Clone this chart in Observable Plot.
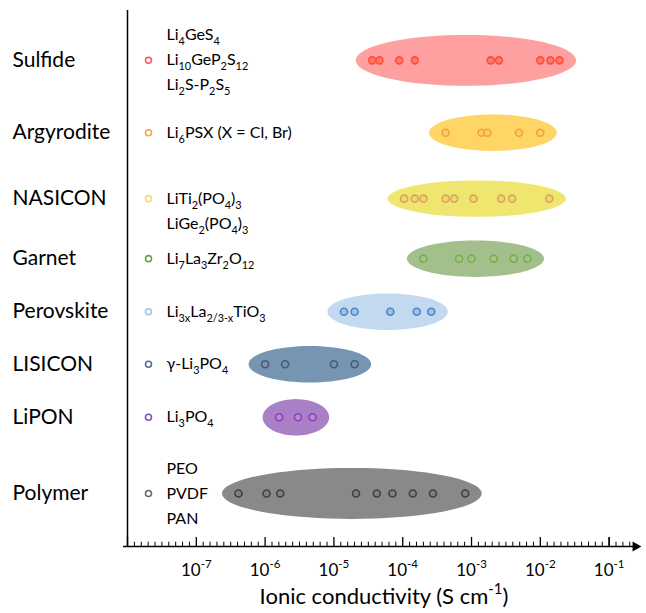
<!DOCTYPE html>
<html><head><meta charset="utf-8">
<script src="https://cdn.jsdelivr.net/npm/d3@7"></script>
<script src="https://cdn.jsdelivr.net/npm/@observablehq/plot@0.6"></script>
<style>body{margin:0;background:#fff}</style></head>
<body><div id="chart"></div>
<script>
// ---- data ----
const categories = ["Sulfide","Argyrodite","NASICON","Garnet","Perovskite","LISICON","LiPON","Polymer"];
const rowSlot = [0, 1.35, 2.58, 3.7, 4.69, 5.67, 6.66, 8.08];
const compoundLines = [
  ["Li_{4}GeS_{4}","Li_{10}GeP_{2}S_{12}","Li_{2}S-P_{2}S_{5}"],
  ["Li_{6}PSX (X = Cl, Br)"],
  ["LiTi_{2}(PO_{4})_{3}","LiGe_{2}(PO_{4})_{3}"],
  ["Li_{7}La_{3}Zr_{2}O_{12}"],
  ["Li_{3x}La_{2/3-x}TiO_{3}"],
  ["γ-Li_{3}PO_{4}"],
  ["Li_{3}PO_{4}"],
  ["PEO","PVDF","PAN"]
];
const anchorLine = [1,0,0,0,0,0,0,1];
// ionic conductivities, S/cm
const sulfide    = [3.6e-5, 4.6e-5, 8.9e-5, 1.5e-4, 1.9e-3, 2.5e-3, 1.0e-2, 1.4e-2, 1.9e-2];
const argyrodite = [4.2e-4, 1.4e-3, 1.7e-3, 4.9e-3, 1.0e-2];
const nasicon    = [1.05e-4, 1.5e-4, 2.0e-4, 4.2e-4, 5.6e-4, 1.07e-3, 2.7e-3, 3.9e-3, 1.35e-2];
const garnet     = [2.0e-4, 6.6e-4, 1.0e-3, 2.1e-3, 4.1e-3, 6.5e-3];
const perovskite = [1.4e-5, 2.0e-5, 6.6e-5, 1.6e-4, 2.6e-4];
const lisicon    = [1.0e-6, 1.95e-6, 1.0e-5, 2.0e-5];
const lipon      = [1.6e-6, 3.0e-6, 4.9e-6];
const polymer    = [4.1e-7, 1.05e-6, 1.66e-6, 2.1e-5, 4.2e-5, 7.1e-5, 1.4e-4, 2.75e-4, 8.1e-4];
const seriesValues = [sulfide, argyrodite, nasicon, garnet, perovskite, lisicon, lipon, polymer];
const tickExponents = [-7,-6,-5,-4,-3,-2,-1];
const axisTitle = "Ionic conductivity (S cm^{-1})";

// ---- styles ----
const ellipseFill = ["#ffa0a0","#ffd666","#eee66f","#a3bf8b","#c3d9ef","#7595b3","#a97fc6","#898989"];
const dotStroke   = ["#ff4b4b","#f5a03c","#d9a656","#78ad52","#4d84c6","#4b5a72","#8a3fc0","#404040"];
const dotFill     = ["#ff7d5a","#ffcc66","#efd870","#a3c48b","#9fc3e8","#7595b3","#b88ad8","#808080"];
const legendStroke= ["#ff5a5a","#f5a050","#ffd966","#6e9e50","#9dc3e6","#5a6a8c","#8050b0","#6a6a6a"];

const X_MIN = 1e-8, X_MAX = Math.pow(10, -0.544);
const Y_TOP = -0.93, Y_BOT = 9.07;
const lineStep = 0.466;

const rows = categories.map((c, i) => ({name: c, i, slot: rowSlot[i]}));
const textLines = rows.flatMap(r => compoundLines[r.i].map((t, k) => ({t, y: r.slot + (k - anchorLine[r.i]) * lineStep})));

function ellipse(i) {
  const lg = seriesValues[i].map(Math.log10);
  const [lo, hi] = d3.extent(lg);
  const cx = (lo + hi) / 2, a = (hi - lo) / 2 + 0.24;
  const b = compoundLines[i].length === 3 ? 0.475 : 0.34;
  return d3.range(73).map(k => {
    const t = 2 * Math.PI * k / 72;
    return {x: Math.pow(10, cx + a * Math.cos(t)), y: rowSlot[i] + b * Math.sin(t)};
  });
}

const majors = d3.range(-8, 0).map(e => Math.pow(10, e));
const minors = d3.range(-8, 0).flatMap(e => d3.range(1, 10).map(k => e + k / 10)).filter(e => e < -0.65).map(e => Math.pow(10, e));
const majorsAll = majors.concat([0.1]);

const marks = [];
categories.forEach((c, i) => {
  marks.push(Plot.line(ellipse(i), {x: "x", y: "y", fill: ellipseFill[i], stroke: "none", curve: "linear-closed"}));
});
categories.forEach((c, i) => {
  marks.push(Plot.dot(seriesValues[i], {x: d => d, y: () => rowSlot[i], r: 3.5, fill: dotFill[i], stroke: dotStroke[i], strokeWidth: 1.6}));
  marks.push(Plot.dot([rows[i]], {y: "slot", frameAnchor: "left", dx: 21, r: 3, fill: "white", stroke: legendStroke[i], strokeWidth: 1.6}));
});
marks.push(
  Plot.text(rows, {y: "slot", text: "name", frameAnchor: "left", dx: -115, textAnchor: "start", fontSize: 21, fill: "black"}),
  Plot.text(textLines, {y: "y", text: "t", frameAnchor: "left", dx: 39, textAnchor: "start", fontSize: 16, fill: "black"}),
  Plot.ruleX([X_MIN], {x: d => d, y1: () => Y_TOP, y2: () => Y_BOT, stroke: "black", strokeWidth: 1.5}),
  Plot.ruleY([Y_BOT], {y: d => d, x1: () => X_MIN, x2: () => X_MAX, stroke: "black", strokeWidth: 1.5, dx: -4}),
  Plot.ruleX(majorsAll, {x: d => d, y1: () => Y_BOT, y2: () => Y_BOT - 0.17, stroke: "black", strokeWidth: 1.3}),
  Plot.ruleX(minors, {x: d => d, y1: () => Y_BOT, y2: () => Y_BOT - 0.08, stroke: "black", strokeWidth: 1}),
  Plot.dot([X_MAX], {x: d => d, y: () => Y_BOT, symbol: "triangle", rotate: 90, r: 3.8, fill: "black", stroke: "none", dx: -5}),
  Plot.text(tickExponents, {x: e => Math.pow(10, e), frameAnchor: "bottom", dy: 29, text: e => `10^{${e}}`, fontSize: 17, fill: "black"}),
  Plot.text([axisTitle], {frameAnchor: "bottom", dy: 57, text: d => d, fontSize: 22, fill: "black"})
);

const plot = Plot.plot({
  width: 646, height: 613,
  marginLeft: 127, marginRight: 6, marginTop: 10, marginBottom: 67,
  style: {fontFamily: "Lato, sans-serif", background: "white", overflow: "visible"},
  x: {type: "log", domain: [X_MIN, X_MAX], axis: null},
  y: {domain: [Y_TOP, Y_BOT], reverse: true, axis: null},
  marks
});
document.getElementById("chart").appendChild(plot);

// rich text: _{sub} and ^{sup}
plot.querySelectorAll("text").forEach(t => {
  const s = t.textContent;
  if (!/[_^]\{/.test(s)) return;
  const fs = parseFloat(getComputedStyle(t).fontSize) || 14;
  while (t.firstChild) t.removeChild(t.firstChild);
  const re = /([_^])\{([^}]*)\}|([^_^]+)/g;
  let m, cur = 0;
  while ((m = re.exec(s))) {
    const ts = document.createElementNS("http://www.w3.org/2000/svg", "tspan");
    let off = 0, txt;
    if (m[1]) {
      txt = m[2];
      off = m[1] === "_" ? 0.3 * fs : -0.42 * fs;
      ts.setAttribute("font-size", (0.68 * fs).toFixed(2));
    } else txt = m[3];
    const dy = off - cur;
    if (dy !== 0) ts.setAttribute("dy", dy.toFixed(2));
    cur = off;
    ts.textContent = txt;
    t.appendChild(ts);
  }
});
</script></body></html>
